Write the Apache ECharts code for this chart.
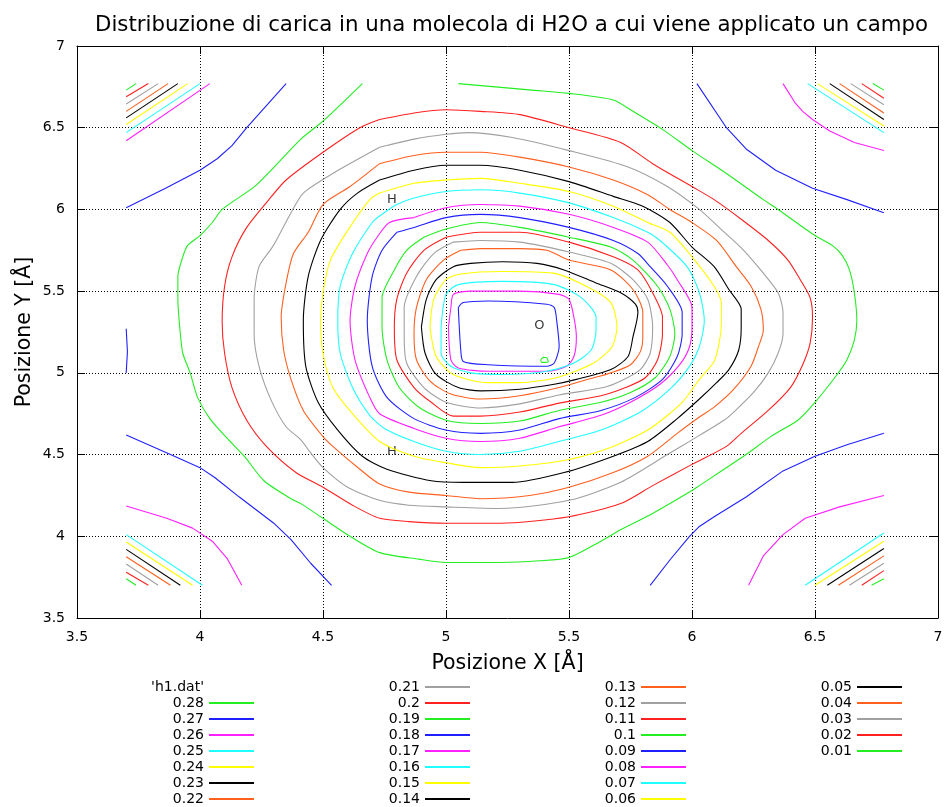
<!DOCTYPE html>
<html>
<head>
<meta charset="utf-8">
<title>Distribuzione di carica H2O</title>
<script src="https://cdn.jsdelivr.net/npm/echarts@6/dist/echarts.min.js"></script>
<style>
html, body { margin: 0; padding: 0; background: #fff; }
#chart { width: 948px; height: 807px; }
</style>
</head>
<body>
<div id="chart"></div>
<script>
// contour levels, in the order of the key
var levels = ['0.28', '0.27', '0.26', '0.25', '0.24', '0.23', '0.22', '0.21', '0.2', '0.19',
              '0.18', '0.17', '0.16', '0.15', '0.14', '0.13', '0.12', '0.11', '0.1', '0.09',
              '0.08', '0.07', '0.06', '0.05', '0.04', '0.03', '0.02', '0.01'];
var colorCycle = ['#22ee22', '#2020ff', '#ff20ff', '#20ffff', '#ffff00', '#000000', '#ff5f1f', '#a0a0a0', '#ff2020'];
var xTicks = [3.5, 4, 4.5, 5, 5.5, 6, 6.5, 7];
var atomLabels = [[4.78, 6.06, 'H'], [4.78, 4.52, 'H'], [5.38, 5.29, 'O']];

// closed contours around the molecule (x, y in Å)
var ring28 = [[5.385,5.079],[5.396,5.095],[5.409,5.093],[5.416,5.068],[5.389,5.064]];
var ring27 = [[5.05,5.40],[5.07,5.43],[5.17,5.44],[5.41,5.42],[5.44,5.40],[5.45,5.32],[5.46,5.16],[5.44,5.06],[5.41,5.04],[5.17,5.05],[5.07,5.07],[5.06,5.14]];
var ring26 = [[5.01,5.28],[5.02,5.40],[5.03,5.48],[5.10,5.50],[5.30,5.50],[5.46,5.48],[5.50,5.45],[5.52,5.34],[5.53,5.22],[5.52,5.10],[5.49,5.04],[5.41,5.01],[5.17,5.01],[5.05,5.03],[5.02,5.08]];
var ring25 = [[4.98,5.28],[5.00,5.48],[5.05,5.54],[5.23,5.56],[5.44,5.54],[5.55,5.46],[5.61,5.34],[5.61,5.26],[5.59,5.14],[5.52,5.06],[5.41,5.01],[5.23,4.99],[5.10,5.00],[5.02,5.04],[4.98,5.12]];
var ring24 = [[4.935,5.28],[4.95,5.45],[5.00,5.57],[5.06,5.605],[5.23,5.62],[5.435,5.61],[5.57,5.53],[5.67,5.43],[5.695,5.28],[5.675,5.16],[5.60,5.06],[5.46,4.975],[5.30,4.94],[5.17,4.94],[5.03,4.99],[4.96,5.10]];
var ring23 = [[4.90,5.28],[4.92,5.45],[4.96,5.57],[5.03,5.65],[5.10,5.67],[5.23,5.68],[5.37,5.67],[5.48,5.63],[5.61,5.55],[5.71,5.49],[5.77,5.42],[5.78,5.37],[5.76,5.22],[5.74,5.10],[5.67,5.02],[5.53,4.96],[5.44,4.93],[5.30,4.90],[5.14,4.89],[5.05,4.91],[4.96,4.99],[4.915,5.12]];
var ring22 = [[5.06,5.75],[5.14,5.76],[5.30,5.76],[5.41,5.75],[5.50,5.69],[5.67,5.63],[5.76,5.51],[5.80,5.37],[5.80,5.22],[5.79,5.13],[5.75,5.05],[5.67,5.00],[5.60,4.97],[5.46,4.91],[5.30,4.86],[5.14,4.84],[5.02,4.87],[4.935,4.95],[4.88,5.08],[4.87,5.24],[4.88,5.40],[4.92,5.57],[4.99,5.69]];
var ring21 = [[5.03,5.80],[5.14,5.81],[5.30,5.80],[5.50,5.74],[5.67,5.67],[5.76,5.57],[5.82,5.45],[5.84,5.28],[5.83,5.12],[5.79,5.02],[5.71,4.95],[5.64,4.91],[5.46,4.865],[5.30,4.81],[5.14,4.785],[5.00,4.82],[4.91,4.91],[4.84,5.06],[4.83,5.24],[4.83,5.40],[4.88,5.59],[4.95,5.73]];
var ring20 = [[5.00,5.83],[5.14,5.86],[5.30,5.86],[5.50,5.80],[5.68,5.71],[5.78,5.63],[5.84,5.49],[5.88,5.34],[5.88,5.24],[5.86,5.08],[5.81,4.97],[5.73,4.91],[5.63,4.86],[5.46,4.815],[5.30,4.76],[5.14,4.735],[5.03,4.735],[4.94,4.82],[4.87,4.91],[4.80,5.08],[4.79,5.28],[4.80,5.45],[4.84,5.61],[4.91,5.75]];
var ring19 = [[4.91,5.83],[5.00,5.88],[5.14,5.92],[5.30,5.89],[5.50,5.83],[5.67,5.77],[5.76,5.69],[5.86,5.53],[5.91,5.39],[5.93,5.24],[5.91,5.10],[5.85,4.97],[5.75,4.88],[5.63,4.82],[5.46,4.77],[5.30,4.705],[5.14,4.69],[5.00,4.71],[4.89,4.79],[4.81,4.91],[4.76,5.08],[4.74,5.28],[4.74,5.46],[4.79,5.63],[4.84,5.75]];
var ring18 = [[4.80,5.86],[4.87,5.89],[5.00,5.95],[5.14,5.97],[5.30,5.95],[5.50,5.89],[5.68,5.81],[5.78,5.73],[5.83,5.65],[5.90,5.53],[5.96,5.37],[5.96,5.24],[5.94,5.10],[5.88,4.96],[5.77,4.85],[5.63,4.77],[5.46,4.72],[5.30,4.65],[5.14,4.63],[5.00,4.65],[4.87,4.72],[4.76,4.85],[4.70,5.04],[4.68,5.32],[4.70,5.59],[4.74,5.75]];
var ring17 = [[4.87,5.95],[5.00,6.01],[5.14,6.03],[5.30,6.02],[5.50,5.97],[5.68,5.89],[5.82,5.80],[5.90,5.66],[5.94,5.57],[6.00,5.40],[6.00,5.28],[5.99,5.16],[5.95,5.05],[5.87,4.93],[5.75,4.82],[5.63,4.74],[5.46,4.67],[5.30,4.60],[5.14,4.58],[5.00,4.60],[4.87,4.66],[4.73,4.75],[4.69,4.85],[4.63,5.08],[4.61,5.32],[4.63,5.53],[4.68,5.73],[4.72,5.83],[4.77,5.92]];
var ring16 = [[4.73,5.96],[4.80,6.03],[4.87,6.07],[5.00,6.11],[5.14,6.12],[5.30,6.10],[5.50,6.04],[5.68,5.95],[5.82,5.86],[5.87,5.81],[5.98,5.65],[6.03,5.49],[6.05,5.32],[6.03,5.16],[5.99,5.04],[5.91,4.90],[5.79,4.76],[5.63,4.65],[5.46,4.58],[5.30,4.52],[5.14,4.50],[5.00,4.52],[4.87,4.58],[4.75,4.66],[4.69,4.74],[4.62,4.91],[4.57,5.12],[4.56,5.32],[4.57,5.53],[4.62,5.73],[4.70,5.92]];
var ring15 = [[4.73,6.10],[4.87,6.16],[5.00,6.18],[5.14,6.19],[5.30,6.16],[5.50,6.11],[5.68,6.02],[5.82,5.92],[5.91,5.86],[6.00,5.71],[6.09,5.53],[6.12,5.42],[6.12,5.32],[6.11,5.18],[6.09,5.07],[6.03,4.96],[5.96,4.82],[5.83,4.66],[5.68,4.55],[5.50,4.47],[5.30,4.43],[5.14,4.42],[5.00,4.45],[4.87,4.49],[4.73,4.58],[4.62,4.75],[4.54,4.91],[4.50,5.12],[4.49,5.32],[4.50,5.49],[4.53,5.69],[4.60,5.87],[4.69,6.06]];
var ring14 = [[4.73,6.18],[4.87,6.24],[5.00,6.27],[5.14,6.27],[5.30,6.24],[5.50,6.17],[5.68,6.08],[5.80,6.02],[5.91,5.92],[6.00,5.77],[6.09,5.65],[6.15,5.51],[6.20,5.39],[6.20,5.28],[6.19,5.14],[6.15,5.02],[6.10,4.94],[6.03,4.84],[5.94,4.72],[5.82,4.58],[5.68,4.49],[5.48,4.39],[5.27,4.33],[5.07,4.33],[4.94,4.34],[4.76,4.41],[4.66,4.49],[4.56,4.65],[4.48,4.82],[4.43,5.04],[4.42,5.32],[4.44,5.59],[4.49,5.81],[4.57,6.00],[4.64,6.10]];
var ring13 = [[4.73,6.28],[4.87,6.33],[5.00,6.35],[5.14,6.35],[5.30,6.32],[5.50,6.26],[5.68,6.18],[5.82,6.09],[5.91,6.00],[6.00,5.92],[6.10,5.81],[6.18,5.65],[6.24,5.53],[6.28,5.39],[6.29,5.26],[6.27,5.16],[6.24,5.04],[6.17,4.90],[6.09,4.79],[6.03,4.73],[5.94,4.63],[5.82,4.49],[5.68,4.39],[5.50,4.30],[5.34,4.25],[5.14,4.23],[5.00,4.25],[4.85,4.27],[4.73,4.32],[4.65,4.41],[4.54,4.55],[4.50,4.61],[4.42,4.77],[4.37,4.96],[4.34,5.14],[4.33,5.34],[4.35,5.55],[4.38,5.73],[4.44,5.86],[4.50,6.03],[4.61,6.14]];
var ring12 = [[4.73,6.38],[4.87,6.43],[5.00,6.46],[5.09,6.47],[5.27,6.44],[5.50,6.36],[5.74,6.26],[5.90,6.14],[6.03,6.00],[6.11,5.89],[6.21,5.75],[6.29,5.61],[6.35,5.49],[6.37,5.37],[6.37,5.24],[6.35,5.12],[6.31,5.00],[6.25,4.88],[6.17,4.76],[6.13,4.71],[6.00,4.59],[5.90,4.50],[5.71,4.33],[5.50,4.22],[5.22,4.17],[5.00,4.18],[4.85,4.19],[4.73,4.22],[4.60,4.30],[4.50,4.42],[4.45,4.51],[4.41,4.59],[4.35,4.67],[4.29,4.83],[4.24,5.04],[4.22,5.24],[4.22,5.45],[4.24,5.65],[4.29,5.76],[4.31,5.81],[4.37,5.98],[4.42,6.10],[4.54,6.22]];
var ring11 = [[4.73,6.55],[4.87,6.59],[5.00,6.61],[5.14,6.60],[5.30,6.58],[5.50,6.50],[5.71,6.41],[5.84,6.28],[6.00,6.14],[6.09,6.06],[6.20,5.94],[6.31,5.81],[6.39,5.69],[6.44,5.57],[6.48,5.46],[6.49,5.34],[6.48,5.18],[6.45,5.05],[6.40,4.91],[6.31,4.77],[6.20,4.63],[6.14,4.55],[6.00,4.44],[5.84,4.31],[5.71,4.20],[5.50,4.12],[5.22,4.08],[5.00,4.08],[4.85,4.09],[4.73,4.11],[4.62,4.19],[4.50,4.30],[4.39,4.39],[4.27,4.55],[4.19,4.71],[4.13,4.91],[4.10,5.12],[4.09,5.31],[4.10,5.53],[4.13,5.71],[4.19,5.89],[4.28,6.06],[4.35,6.18],[4.50,6.35],[4.65,6.50]];
// 0.1 is cut open by the top edge of the data grid
var open10 = [[5.05,6.77],[5.35,6.73],[5.50,6.71],[5.68,6.67],[5.75,6.61],[5.88,6.49],[6.00,6.36],[6.14,6.22],[6.29,6.06],[6.35,6.00],[6.50,5.84],[6.57,5.78],[6.61,5.72],[6.64,5.63],[6.66,5.49],[6.67,5.32],[6.66,5.20],[6.63,5.08],[6.59,4.99],[6.50,4.82],[6.43,4.71],[6.32,4.61],[6.22,4.50],[6.11,4.39],[6.03,4.31],[6.00,4.28],[5.84,4.14],[5.71,4.04],[5.63,3.97],[5.50,3.87],[5.38,3.85],[5.22,3.84],[5.00,3.84],[4.89,3.86],[4.73,3.90],[4.61,4.00],[4.50,4.11],[4.41,4.20],[4.37,4.23],[4.26,4.34],[4.18,4.49],[4.11,4.60],[4.04,4.72],[3.99,4.85],[3.96,5.00],[3.93,5.12],[3.92,5.24],[3.91,5.45],[3.91,5.59],[3.93,5.71],[3.95,5.78],[4.00,5.84],[4.05,5.92],[4.09,6.00],[4.23,6.15],[4.41,6.43],[4.50,6.54],[4.66,6.77]];

// corner pieces
var tl09 = [[3.70,6.01],[3.86,6.13],[4.00,6.24],[4.07,6.31],[4.13,6.39],[4.19,6.50],[4.35,6.77]];
var tr09 = [[6.02,6.77],[6.14,6.50],[6.22,6.37],[6.34,6.24],[6.49,6.13],[6.63,6.06],[6.78,5.98]];
var bl09 = [[3.70,4.62],[3.88,4.50],[4.00,4.42],[4.06,4.36],[4.16,4.24],[4.30,4.08],[4.37,3.98],[4.45,3.835],[4.535,3.70]];
var br09 = [[5.83,3.70],[5.91,3.855],[5.99,4.00],[6.03,4.06],[6.09,4.12],[6.22,4.24],[6.37,4.40],[6.50,4.49],[6.63,4.56],[6.78,4.63]];
var edge09 = [[3.70,5.27],[3.705,5.13],[3.70,5.00]];
var tl08 = [[3.70,6.42],[4.04,6.77]];
var tr08 = [[6.37,6.77],[6.42,6.65],[6.45,6.60],[6.49,6.55],[6.56,6.48],[6.66,6.41],[6.78,6.36]];
var bl08 = [[3.70,4.185],[3.865,4.11],[3.97,4.05],[4.05,3.97],[4.11,3.865],[4.17,3.70]];
var br08 = [[6.23,3.70],[6.29,3.88],[6.37,4.01],[6.46,4.11],[6.60,4.18],[6.78,4.25]];
var tl07 = [[3.70,6.47],[4.00,6.77]], tr07 = [[6.47,6.77],[6.78,6.47]], bl07 = [[3.70,4.01],[4.01,3.70]], br07 = [[6.46,3.70],[6.78,4.02]];
var tl06 = [[3.70,6.52],[3.95,6.77]], tr06 = [[6.51,6.77],[6.78,6.51]], bl06 = [[3.70,3.965],[3.97,3.70]], br06 = [[6.50,3.70],[6.78,3.97]];
var tl05 = [[3.70,6.56],[3.91,6.77]], tr05 = [[6.56,6.77],[6.78,6.55]], bl05 = [[3.70,3.92],[3.92,3.70]], br05 = [[6.55,3.70],[6.78,3.925]];
var tl04 = [[3.70,6.60],[3.87,6.77]], tr04 = [[6.60,6.77],[6.78,6.59]], bl04 = [[3.70,3.875],[3.88,3.70]], br04 = [[6.595,3.70],[6.78,3.88]];
var tl03 = [[3.70,6.645],[3.83,6.77]], tr03 = [[6.645,6.77],[6.78,6.64]], bl03 = [[3.70,3.83],[3.83,3.70]], br03 = [[6.64,3.70],[6.78,3.835]];
var tl02 = [[3.70,6.69],[3.79,6.77]], tr02 = [[6.69,6.77],[6.78,6.68]], bl02 = [[3.70,3.78],[3.79,3.70]], br02 = [[6.69,3.70],[6.78,3.79]];
var tl01 = [[3.70,6.73],[3.74,6.77]], tr01 = [[6.735,6.77],[6.78,6.73]], bl01 = [[3.70,3.74],[3.74,3.70]], br01 = [[6.73,3.70],[6.78,3.74]];

var rings = [ring28, ring27, ring26, ring25, ring24, ring23, ring22, ring21, ring20, ring19,
             ring18, ring17, ring16, ring15, ring14, ring13, ring12, ring11];
var pieces = {
    '0.1': [open10],
    '0.09': [tl09, tr09, bl09, br09, edge09],
    '0.08': [tl08, tr08, bl08, br08],
    '0.07': [tl07, tr07, bl07, br07],
    '0.06': [tl06, tr06, bl06, br06],
    '0.05': [tl05, tr05, bl05, br05],
    '0.04': [tl04, tr04, bl04, br04],
    '0.03': [tl03, tr03, bl03, br03],
    '0.02': [tl02, tr02, bl02, br02],
    '0.01': [tl01, tr01, bl01, br01]
};

var font = 'DejaVu Sans';
var series = [];
// dummy series so the key shows the file name on top
series.push({ type: 'line', name: "'h1.dat'", data: [], symbol: 'none' });

levels.forEach(function (lv, i) {
    var col = colorCycle[i % colorCycle.length];
    var list;
    if (i < rings.length) {
        // close the loop
        list = [rings[i].concat([rings[i][0]])];
    } else {
        list = pieces[lv];
    }
    list.forEach(function (pts) {
        series.push({
            type: 'line',
            name: lv,
            data: pts,
            symbol: 'none',
            showSymbol: false,
            smooth: i < rings.length || lv === '0.1' ? 0.25 : false,
            silent: true,
            lineStyle: { color: col, width: 1.1 },
            itemStyle: { color: col }
        });
    });
});

series.push({
    type: 'scatter',
    data: atomLabels,
    symbolSize: 0,
    silent: true,
    label: {
        show: true,
        position: 'inside',
        formatter: function (p) { return p.value[2]; },
        color: '#000',
        fontFamily: font,
        fontSize: 13
    }
});

function legendCol(names, right) {
    return {
        orient: 'vertical',
        right: right,
        top: 680,
        padding: 0,
        align: 'right',
        itemWidth: 45,
        itemHeight: 14,
        itemGap: 2,
        selectedMode: false,
        itemStyle: { opacity: 0 },
        textStyle: { fontFamily: font, fontSize: 14, color: '#000', lineHeight: 14 },
        data: names
    };
}

var col1 = [{ name: "'h1.dat'", lineStyle: { opacity: 0 } }].concat(levels.slice(0, 7));

var axisCommon = {
    type: 'value',
    min: 3.5,
    max: 7,
    interval: 0.5,
    axisLine: { show: true, onZero: false, lineStyle: { color: '#000', width: 1 } },
    axisTick: { show: true, inside: true, length: 8, lineStyle: { color: '#000' } }
};

var option = {
    animation: false,
    backgroundColor: '#fff',
    title: {
        text: 'Distribuzione di carica in una molecola di H2O a cui viene applicato un campo',
        left: 90,
        top: 10,
        textStyle: { fontFamily: font, fontSize: 21.3, fontWeight: 'normal', color: '#000' }
    },
    grid: { left: 77, right: 10, top: 46, bottom: 189 },
    legend: [
        legendCol(col1, 693),
        legendCol(levels.slice(7, 15), 477),
        legendCol(levels.slice(15, 23), 261),
        legendCol(levels.slice(23), 45)
    ],
    xAxis: [
        Object.assign({}, axisCommon, {
            position: 'bottom',
            name: 'Posizione X [Å]',
            nameLocation: 'middle',
            nameGap: 35,
            nameMoveOverlap: false,
            nameTextStyle: { fontFamily: font, fontSize: 20.5, color: '#000' },
            axisLabel: {
                fontFamily: font, fontSize: 14, color: '#000', margin: 12,
                formatter: function (v) { return xTicks.indexOf(v) >= 0 ? String(v) : ''; }
            },
            splitLine: { show: true, lineStyle: { color: '#000', type: [1, 2], width: 1 } }
        }),
        Object.assign({}, axisCommon, {
            position: 'top',
            axisLabel: { show: false },
            splitLine: { show: false }
        })
    ],
    yAxis: [
        Object.assign({}, axisCommon, {
            position: 'left',
            name: 'Posizione Y [Å]',
            nameLocation: 'middle',
            nameGap: 42,
            nameMoveOverlap: false,
            nameTextStyle: { fontFamily: font, fontSize: 20.5, color: '#000' },
            axisLabel: { fontFamily: font, fontSize: 14, color: '#000', margin: 12 },
            splitLine: { show: true, lineStyle: { color: '#000', type: [1, 2], width: 1 } }
        }),
        Object.assign({}, axisCommon, {
            position: 'right',
            axisLabel: { show: false },
            splitLine: { show: false }
        })
    ],
    series: series
};

var chart = echarts.init(document.getElementById('chart'));
chart.setOption(option);
</script>
</body>
</html>
